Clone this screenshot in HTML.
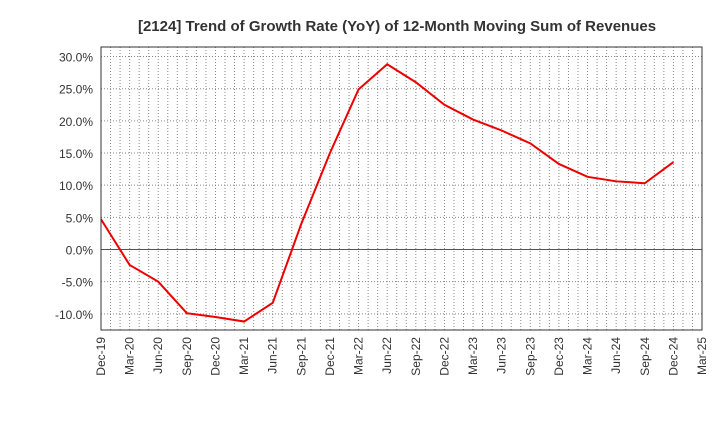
<!DOCTYPE html>
<html><head><meta charset="utf-8"><style>
body{margin:0;background:#fff;width:720px;height:440px;overflow:hidden;font-family:"Liberation Sans",sans-serif}
</style></head><body>
<svg width="720" height="440" xmlns="http://www.w3.org/2000/svg">
<text x="397" y="31" text-anchor="middle" font-size="15" font-weight="bold" fill="#333">[2124]  Trend of Growth Rate (YoY) of 12-Month Moving Sum of Revenues</text>
<g id="grid"></g><g id="axes"></g><g id="series"></g>
<rect x="101" y="47" width="601" height="283" fill="none" stroke="#333" stroke-width="1"/>
</svg>
<script>
const categories=["Dec-19","Mar-20","Jun-20","Sep-20","Dec-20","Mar-21","Jun-21","Sep-21","Dec-21","Mar-22","Jun-22","Sep-22","Dec-22","Mar-23","Jun-23","Sep-23","Dec-23","Mar-24","Jun-24","Sep-24","Dec-24","Mar-25"];
const values=[4.7,-2.4,-5.0,-9.9,-10.5,-11.2,-8.3,4.0,15.0,24.9,28.8,26.0,22.5,20.2,18.5,16.5,13.3,11.3,10.6,10.3,13.6];
const yTicks=[-10,-5,0,5,10,15,20,25,30];
const NS="http://www.w3.org/2000/svg";
const L=101,R=702,T=47,B=330;
const x=i=>L+(R-L)*i/(categories.length-1);
const y=v=>249.5-v*(257.3/40);
function mk(t,a,p){const e=document.createElementNS(NS,t);for(const k in a)e.setAttribute(k,a[k]);p.appendChild(e);return e;}
const grid=document.getElementById('grid'),axes=document.getElementById('axes'),series=document.getElementById('series');
for(let m=1;m<(categories.length-1)*3;m++){const xx=L+(R-L)*m/((categories.length-1)*3);
 const l=mk('line',{x1:xx,x2:xx,y1:T,y2:B,stroke:'#888','stroke-dasharray':'1,2','stroke-width':1},grid);
 
 }
yTicks.forEach(v=>{const yy=y(v);
 const l=mk('line',{x1:L,x2:R,y1:yy,y2:yy,stroke:v===0?'#555':'#888','stroke-dasharray':v===0?'':'1,2','stroke-width':1},grid);
 
 
 const t=mk('text',{x:93,y:yy+5,'text-anchor':'end','font-size':12,fill:'#333'},axes);t.textContent=v.toFixed(1)+'%';
 
 });
categories.forEach((c,i)=>{const xx=x(i);
 const t=mk('text',{x:xx+4,y:337,'text-anchor':'end','font-size':12,fill:'#333',transform:`rotate(-90 ${xx+4} 337)`},axes);t.textContent=c;
 
 });
const p=mk('polyline',{points:values.map((v,i)=>x(i)+','+y(v)).join(' '),fill:'none',stroke:'#e00','stroke-width':2},series);


</script>
</body></html>
